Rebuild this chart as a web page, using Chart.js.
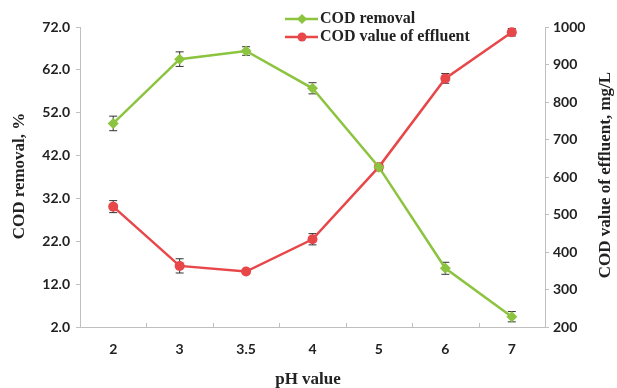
<!DOCTYPE html>
<html><head><meta charset="utf-8">
<script src="https://cdn.jsdelivr.net/npm/chart.js@4.4.0/dist/chart.umd.min.js"></script>
<style>html,body{margin:0;padding:0;background:#fff}#wrap{width:617px;height:388px;position:relative}</style>
</head><body><div id="wrap"><canvas id="c" width="617" height="388"></canvas></div>
<script>
const categories = ['2','3','3.5','4','5','6','7'];
const codRemoval = [49.5,64.5,66.4,57.7,39.3,15.7,4.4];
const codRemovalErr = [1.7,1.7,1.0,1.3,0.8,1.4,1.2];
const codEffluent = [521,363,348,434,627,863,986];
const codEffluentErr = [16,19,6,15,8,13,10];
const leftTicks = [2,12,22,32,42,52,62,72];
const rightTicks = [200,300,400,500,600,700,800,900,1000];
const seriesNames = ['COD removal','COD value of effluent'];
const xTitle = 'pH value';
const leftTitle = 'COD removal, %';
const rightTitle = 'COD value of effluent, mg/L';

const GREEN = '#8cc43f', RED = '#e8474a', AXIS = '#bfbfbf', TXT = '#222';
const SERIF = '"Liberation Serif", "Times New Roman", serif';
const SANS = 'Lato, "Open Sans", sans-serif';

const errorBars = {
  id: 'errorBars',
  beforeDatasetsDraw(chart) {
    const ctx = chart.ctx;
    const errs = [codRemovalErr, codEffluentErr];
    chart.data.datasets.forEach((ds, i) => {
      const meta = chart.getDatasetMeta(i);
      const ys = chart.scales[ds.yAxisID];
      ctx.save();
      ctx.strokeStyle = '#333';
      ctx.lineWidth = 1;
      meta.data.forEach((pt, j) => {
        const v = ds.data[j], e = errs[i][j];
        const y1 = ys.getPixelForValue(v + e), y2 = ys.getPixelForValue(v - e);
        const x = pt.x;
        ctx.beginPath();
        ctx.moveTo(x, y1); ctx.lineTo(x, y2);
        ctx.moveTo(x - 4, y1); ctx.lineTo(x + 4, y1);
        ctx.moveTo(x - 4, y2); ctx.lineTo(x + 4, y2);
        ctx.stroke();
      });
      ctx.restore();
    });
  }
};

const decorations = {
  id: 'decorations',
  afterDraw(chart) {
    const ctx = chart.ctx;
    const xs = chart.scales.x;
    const area = chart.chartArea;
    ctx.save();
    ctx.strokeStyle = AXIS; ctx.lineWidth = 1;
    for (let i = 1; i < categories.length; i++) {
      const x = Math.round((xs.getPixelForTick(i - 1) + xs.getPixelForTick(i)) / 2) + 0.5;
      ctx.beginPath(); ctx.moveTo(x, area.bottom); ctx.lineTo(x, area.bottom - 4); ctx.stroke();
    }
    ctx.fillStyle = TXT;
    ctx.font = 'bold 17px ' + SERIF;
    ctx.textAlign = 'center'; ctx.textBaseline = 'middle';
    ctx.fillText(xTitle, 308, 380);
    ctx.save(); ctx.translate(20, 176); ctx.rotate(-Math.PI / 2);
    ctx.fillText(leftTitle, 0, 0); ctx.restore();
    ctx.save(); ctx.translate(606, 175); ctx.rotate(-Math.PI / 2);
    ctx.fillText(rightTitle, 0, 0); ctx.restore();
    ctx.font = 'bold 16px ' + SERIF;
    const items = [[GREEN, 'rectRot', 19], [RED, 'circle', 37]];
    items.forEach((it, i) => {
      const [col, style, y] = it;
      ctx.strokeStyle = col; ctx.lineWidth = 2.5;
      ctx.beginPath(); ctx.moveTo(285, y); ctx.lineTo(318, y); ctx.stroke();
      ctx.fillStyle = col;
      ctx.beginPath();
      if (style === 'circle') { ctx.arc(302, y, 4.5, 0, Math.PI * 2); }
      else { ctx.moveTo(302, y - 5); ctx.lineTo(307, y); ctx.lineTo(302, y + 5); ctx.lineTo(297, y); ctx.closePath(); }
      ctx.fill();
      ctx.fillStyle = TXT;
      ctx.textAlign = 'left';
      ctx.fillText(seriesNames[i], 320, y);
    });
    ctx.restore();
  }
};

new Chart(document.getElementById('c'), {
  type: 'line',
  data: {
    labels: categories,
    datasets: [
      {label: seriesNames[0], data: codRemoval, yAxisID: 'y', borderColor: GREEN, backgroundColor: GREEN,
       borderWidth: 2.5, pointStyle: 'rectRot', pointRadius: 5.5, pointBorderWidth: 0, tension: 0},
      {label: seriesNames[1], data: codEffluent, yAxisID: 'y1', borderColor: RED, backgroundColor: RED,
       borderWidth: 2.5, pointStyle: 'circle', pointRadius: 5, pointBorderWidth: 0, tension: 0}
    ]
  },
  options: {
    responsive: false, animation: false, devicePixelRatio: 1,
    layout: {padding: {top: 27, left: 0, right: 0, bottom: 0}},
    plugins: {legend: {display: false}, tooltip: {enabled: false}},
    scales: {
      x: {
        type: 'category', offset: true,
        grid: {display: false, drawTicks: false},
        border: {display: true, color: AXIS, width: 1},
        ticks: {font: {family: SANS, size: 14, weight: 'bold'}, color: TXT, padding: 14, maxRotation: 0},
        afterFit(s) { s.height = 61; }
      },
      y: {
        position: 'left', min: 2, max: 72,
        afterBuildTicks(s) { s.ticks = leftTicks.map(v => ({value: v})); },
        grid: {drawOnChartArea: false, drawTicks: true, tickLength: 4, color: AXIS},
        border: {display: true, color: AXIS, width: 1},
        ticks: {font: {family: SANS, size: 14, weight: 'bold'}, color: TXT, padding: 6, callback: v => Number(v).toFixed(1)},
        afterFit(s) { s.width = 80; }
      },
      y1: {
        position: 'right', min: 200, max: 1000,
        afterBuildTicks(s) { s.ticks = rightTicks.map(v => ({value: v})); },
        grid: {drawOnChartArea: false, drawTicks: true, tickLength: 4, color: AXIS},
        border: {display: true, color: AXIS, width: 1},
        ticks: {font: {family: SANS, size: 14, weight: 'bold'}, color: TXT, padding: 4, callback: v => String(v)},
        afterFit(s) { s.width = 72; }
      }
    }
  },
  plugins: [errorBars, decorations]
});
</script></body></html>
